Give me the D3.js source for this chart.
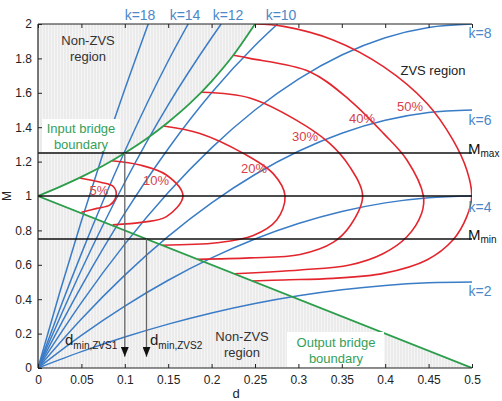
<!DOCTYPE html>
<html>
<head>
<meta charset="utf-8">
<script src="https://cdn.jsdelivr.net/npm/d3@7"></script>
<style>
  body { margin: 0; background: #fff; }
  svg { display: block; font-family: "Liberation Sans", Arial, sans-serif; }
</style>
</head>
<body>
<div id="chart"></div>
<script>
// axis ticks
const dTicks = [0, 0.05, 0.1, 0.15, 0.2, 0.25, 0.3, 0.35, 0.4, 0.45, 0.5];
const mTicks = [0, 0.2, 0.4, 0.6, 0.8, 1, 1.2, 1.4, 1.6, 1.8, 2];

// k curves, [d, M]
const kCurve2 = [[0, 0], [0.05, 0.095], [0.1, 0.18], [0.15, 0.255], [0.2, 0.32], [0.25, 0.375], [0.3, 0.42], [0.35, 0.455], [0.4, 0.48], [0.45, 0.495], [0.5, 0.5]];
const kCurve4 = [[0, 0], [0.05, 0.19], [0.1, 0.36], [0.15, 0.51], [0.2, 0.64], [0.25, 0.75], [0.3, 0.84], [0.35, 0.91], [0.4, 0.96], [0.45, 0.99], [0.5, 1.0]];
const kCurve6 = [[0, 0], [0.05, 0.285], [0.1, 0.54], [0.15, 0.765], [0.2, 0.96], [0.25, 1.125], [0.3, 1.26], [0.35, 1.365], [0.4, 1.44], [0.45, 1.485], [0.5, 1.5]];
const kCurve8 = [[0, 0], [0.05, 0.38], [0.1, 0.72], [0.15, 1.02], [0.2, 1.28], [0.25, 1.5], [0.3, 1.68], [0.35, 1.82], [0.4, 1.92], [0.45, 1.98], [0.5, 2.0]];
const kCurve10 = [[0, 0], [0.05, 0.475], [0.1, 0.9], [0.15, 1.275], [0.2, 1.6], [0.25, 1.875], [0.276, 2.0]];
const kCurve12 = [[0, 0], [0.05, 0.57], [0.1, 1.08], [0.15, 1.53], [0.2, 1.92], [0.211, 2.0]];
const kCurve14 = [[0, 0], [0.025, 0.341], [0.05, 0.665], [0.1, 1.26], [0.15, 1.785], [0.173, 2.0]];
const kCurve18 = [[0, 0], [0.025, 0.439], [0.05, 0.855], [0.075, 1.249], [0.1, 1.62], [0.127, 2.0]];
const kCurves = [kCurve2, kCurve4, kCurve6, kCurve8, kCurve10, kCurve12, kCurve14, kCurve18];
const kNames = ["k=2", "k=4", "k=6", "k=8", "k=10", "k=12", "k=14", "k=18"];

// efficiency contours
const eff5 = [[0.048, 1.105], [0.071, 1.081], [0.087, 1.054], [0.09, 1.0], [0.083, 0.948], [0.068, 0.928], [0.05, 0.905]];
const eff10 = [[0.085, 1.205], [0.1175, 1.18], [0.148, 1.122], [0.167, 1.0], [0.148, 0.88], [0.121, 0.848], [0.086, 0.832]];
const eff20 = [[0.1444, 1.407], [0.1866, 1.364], [0.2366, 1.248], [0.271, 1.13], [0.2846, 1.0], [0.275, 0.86], [0.248, 0.77], [0.206, 0.728], [0.143, 0.714]];
const eff30 = [[0.1886, 1.603], [0.244, 1.57], [0.298, 1.44], [0.336, 1.306], [0.359, 1.171], [0.374, 1.0], [0.36, 0.83], [0.34, 0.73], [0.302, 0.66], [0.244, 0.64], [0.184, 0.632]];
const eff40 = [[0.225, 1.818], [0.244, 1.8], [0.313, 1.723], [0.359, 1.558], [0.398, 1.364], [0.425, 1.209], [0.444, 1.0], [0.442, 0.9], [0.425, 0.763], [0.398, 0.666], [0.359, 0.599], [0.302, 0.57], [0.226, 0.548]];
const eff50 = [[0.25, 2.0], [0.283, 1.986], [0.34, 1.907], [0.398, 1.752], [0.448, 1.539], [0.478, 1.326], [0.494, 1.151], [0.4997, 1.0], [0.494, 0.88], [0.478, 0.744], [0.448, 0.628], [0.398, 0.55], [0.34, 0.521], [0.283, 0.512], [0.247, 0.506]];
const effCurves = [eff5, eff10, eff20, eff30, eff40, eff50];
const effNames = ["5%", "10%", "20%", "30%", "40%", "50%"];

// bridge boundaries
const inputBoundary = [[0, 1], [0.025, 1.053], [0.05, 1.111], [0.075, 1.176], [0.1, 1.25], [0.125, 1.333], [0.15, 1.429], [0.175, 1.538], [0.2, 1.667], [0.225, 1.818], [0.25, 2.0]];
const outputBoundary = [[0, 1], [0.5, 0]];

// M limits and arrows
const mLevels = [1.25, 1, 0.75];
const mLevelNames = ["max", null, "min"];
const arrowD = [0.1, 0.125];
const arrowTop = [1.25, 0.75];
const arrowBottom = 0.065;

const width = 502, height = 401;
const x = d3.scaleLinear().domain([0, 0.5]).range([38, 472]);
const y = d3.scaleLinear().domain([0, 2]).range([368, 24]);

const blue = "#3a7cc6", red = "#e3262e", green = "#2c9e4b";
const blueText = "#4b87c9", redText = "#d8414a", greenText = "#35a05a";

const svg = d3.select("#chart").append("svg")
  .attr("width", width)
  .attr("height", height);

const defs = svg.append("defs");
const pat = defs.append("pattern")
  .attr("id", "grey")
  .attr("width", 3).attr("height", 3)
  .attr("patternUnits", "userSpaceOnUse");
pat.append("rect").attr("width", 3).attr("height", 3).attr("fill", "#ebebeb");
pat.append("rect").attr("width", 1).attr("height", 3).attr("fill", "#f5f5f5");

defs.append("clipPath").attr("id", "plot")
  .append("rect")
  .attr("x", x(0)).attr("y", y(2))
  .attr("width", x(0.5) - x(0)).attr("height", y(0) - y(2));

defs.append("marker")
  .attr("id", "arrow")
  .attr("viewBox", "0 0 10 10")
  .attr("refX", 10).attr("refY", 5)
  .attr("markerWidth", 10).attr("markerHeight", 8)
  .attr("markerUnits", "userSpaceOnUse")
  .attr("orient", "auto")
  .attr("preserveAspectRatio", "none")
  .append("path")
  .attr("d", "M0,0 L10,5 L0,10 Z")
  .attr("fill", "#111");

const line = d3.line().x(p => x(p[0])).y(p => y(p[1]));

// non-ZVS shaded areas
const upperRegion = [[0, 2]].concat(inputBoundary);
svg.append("path")
  .attr("d", line(upperRegion) + "Z")
  .attr("fill", "url(#grey)");
const lowerRegion = [[0, 0]].concat(outputBoundary);
svg.append("path")
  .attr("d", line(lowerRegion) + "Z")
  .attr("fill", "url(#grey)");

const plot = svg.append("g").attr("clip-path", "url(#plot)");

// white boxes behind boundary labels
svg.append("rect").attr("x", 42).attr("y", 119).attr("width", 78).attr("height", 33).attr("fill", "#fff");
svg.append("rect").attr("x", 287).attr("y", 332).attr("width", 97).attr("height", 35).attr("fill", "#fff");

// k curves
plot.append("g").selectAll("path")
  .data(kCurves)
  .join("path")
  .attr("d", d => line.curve(d3.curveMonotoneX)(d))
  .attr("fill", "none")
  .attr("stroke", blue)
  .attr("stroke-width", 1.5);

// efficiency contours
plot.append("g").selectAll("path")
  .data(effCurves)
  .join("path")
  .attr("d", d => line.curve(d3.curveCatmullRom.alpha(0.5))(d))
  .attr("fill", "none")
  .attr("stroke", red)
  .attr("stroke-width", 1.6);

// boundaries
plot.append("path")
  .attr("d", line.curve(d3.curveMonotoneX)(inputBoundary))
  .attr("fill", "none").attr("stroke", green).attr("stroke-width", 1.8);
plot.append("path")
  .attr("d", line.curve(d3.curveLinear)(outputBoundary))
  .attr("fill", "none").attr("stroke", green).attr("stroke-width", 1.8);

// M limits
svg.append("g").selectAll("line")
  .data(mLevels)
  .join("line")
  .attr("x1", x(0)).attr("x2", x(0.5))
  .attr("y1", d => y(d)).attr("y2", d => y(d))
  .attr("stroke", "#111").attr("stroke-width", 1.3);

// d_min arrows
svg.append("g").selectAll("line")
  .data(arrowD)
  .join("line")
  .attr("x1", d => x(d)).attr("x2", d => x(d))
  .attr("y1", (d, i) => y(arrowTop[i]))
  .attr("y2", y(arrowBottom))
  .attr("stroke", "#666").attr("stroke-width", 1.3)
  .attr("marker-end", "url(#arrow)");

// axes
const xAxis = d3.axisBottom(x).tickValues(dTicks).tickSize(-4).tickPadding(7)
  .tickFormat(d => d === 0 ? "0" : d3.format("~g")(d));
const yAxis = d3.axisLeft(y).tickValues(mTicks).tickSize(-4).tickPadding(6)
  .tickFormat(d3.format("~g"));

const gx = svg.append("g").attr("transform", `translate(0,${y(0)})`).call(xAxis);
const gxTop = svg.append("g").attr("transform", `translate(0,${y(2)})`)
  .call(d3.axisTop(x).tickValues(dTicks).tickSize(-4).tickFormat(""));
const gy = svg.append("g").attr("transform", `translate(${x(0)},0)`).call(yAxis);
[gx, gxTop, gy].forEach(g => {
  g.select(".domain").attr("stroke", "#222").attr("stroke-width", 1.2);
  g.selectAll(".tick line").attr("stroke", "#222");
  g.selectAll("text").attr("fill", "#222").style("font-size", "12px")
    .style("font-family", "'Liberation Sans', Arial, sans-serif");
});
gxTop.select(".domain").attr("d", `M${x(0)},0H${x(0.5)}`);
gx.select(".domain").attr("d", `M${x(0)},0H${x(0.5)}`);
gy.select(".domain").attr("d", `M0,${y(0)}V${y(2)}`);

// axis titles
svg.append("text").attr("x", 236).attr("y", 398).attr("text-anchor", "middle")
  .style("font-size", "13px").attr("fill", "#222").text("d");
svg.append("text").attr("transform", "translate(11,196) rotate(-90)").attr("text-anchor", "middle")
  .style("font-size", "12px").attr("fill", "#222").text("M");

// k labels
const kLabelPos = [[480, 296], [480, 212], [480, 125], [480, 38], [281, 20], [228, 20], [185, 20], [140, 20]];
svg.append("g").selectAll("text")
  .data(kNames)
  .join("text")
  .attr("x", (d, i) => kLabelPos[i][0])
  .attr("y", (d, i) => kLabelPos[i][1])
  .attr("text-anchor", "middle")
  .attr("fill", blueText)
  .style("font-size", "14px")
  .text(d => d);

// contour labels
const effLabelPos = [[99, 195], [156, 185], [254, 173], [305, 141], [362, 123], [410, 111]];
svg.append("g").selectAll("text")
  .data(effNames)
  .join("text")
  .attr("x", (d, i) => effLabelPos[i][0])
  .attr("y", (d, i) => effLabelPos[i][1])
  .attr("text-anchor", "middle")
  .attr("fill", redText)
  .style("font-size", "13px")
  .text(d => d);

// M max / min labels
mLevels.forEach((m, i) => {
  if (!mLevelNames[i]) return;
  const t = svg.append("text").attr("x", 468).attr("y", y(m) + 1).attr("fill", "#111").style("font-size", "15px");
  t.append("tspan").text("M");
  t.append("tspan").attr("dy", 3).style("font-size", "10px").text(mLevelNames[i]);
});

// region labels
function twoLine(cx, cy, lines, color, size) {
  svg.append("g").selectAll("text")
    .data(lines)
    .join("text")
    .attr("x", cx)
    .attr("y", (d, i) => cy + i * 16)
    .attr("text-anchor", "middle")
    .attr("fill", color)
    .style("font-size", size + "px")
    .text(d => d);
}
twoLine(88, 45, ["Non-ZVS", "region"], "#333", 13);
twoLine(242, 341, ["Non-ZVS", "region"], "#333", 13);
twoLine(433, 75, ["ZVS region"], "#222", 13);
twoLine(81, 133, ["Input bridge", "boundary"], greenText, 13);
twoLine(336, 347, ["Output bridge", "boundary"], greenText, 13);

// d_min labels
[["ZVS1", 65], ["ZVS2", 150]].forEach(([s, px]) => {
  const t = svg.append("text").attr("x", px).attr("y", 345).attr("fill", "#222").style("font-size", "15px");
  t.append("tspan").text("d");
  t.append("tspan").attr("dy", 4).style("font-size", "10px").text("min," + s);
});
</script>
</body>
</html>
